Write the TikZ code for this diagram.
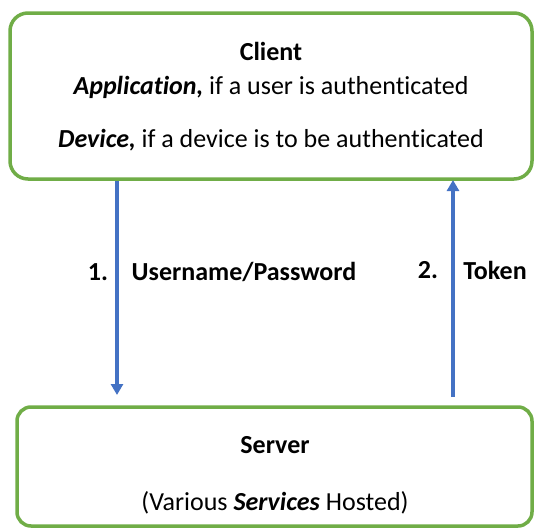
\documentclass[tikz,border=0pt]{standalone}
\usepackage{fontspec}
\setmainfont{Carlito}[Ligatures=NoCommon]
\usetikzlibrary{arrows.meta}
\definecolor{boxgreen}{HTML}{70AD47}
\definecolor{arrblue}{HTML}{4472C4}
\begin{document}
\begin{tikzpicture}[x=1pt,y=-1pt,
  box/.style={draw=boxgreen, line width=3.5pt, rounded corners=18pt, fill=white},
  txt/.style={inner sep=0pt, anchor=center, font=\fontsize{26}{30}\selectfont},
  lbl/.style={inner sep=0pt, anchor=center, font=\fontsize{26}{30}\selectfont\bfseries},
  arr/.style={draw=arrblue, line width=3.5pt, -{Triangle[length=11pt,width=12pt]}}]
\useasboundingbox (0,0) rectangle (536,528);
\path[box] (10,13) rectangle (532,179);
\path[box, rounded corners=14pt] (17,407) rectangle (532,526);
\node[txt] (client) at (271,51) {\textbf{Client}};
\node[txt] (app) at (271,87) {\textbf{\textit{Application,}} if a user is authenticated};
\node[txt] (dev) at (271,140) {\textbf{\textit{Device,}} if a device is to be authenticated};
\node[txt] (server) at (275,445) {\textbf{Server}};
\node[txt] (svc) at (275,503) {(Various \textbf{\textit{Services}} Hosted)};
\coordinate (a1s) at (117,181);
\coordinate (a1e) at (117,395);
\coordinate (a2s) at (453,397);
\coordinate (a2e) at (453,180);
\draw[arr] (a1s) -- (a1e);
\draw[arr] (a2s) -- (a2e);
\node[lbl] (n1) at (98,272) {1.};
\node[lbl] (up) at (244,272) {Username/Password};
\node[lbl] (n2) at (428,270) {2.};
\node[lbl] (tok) at (495,270) {Token};
\end{tikzpicture}
\end{document}
